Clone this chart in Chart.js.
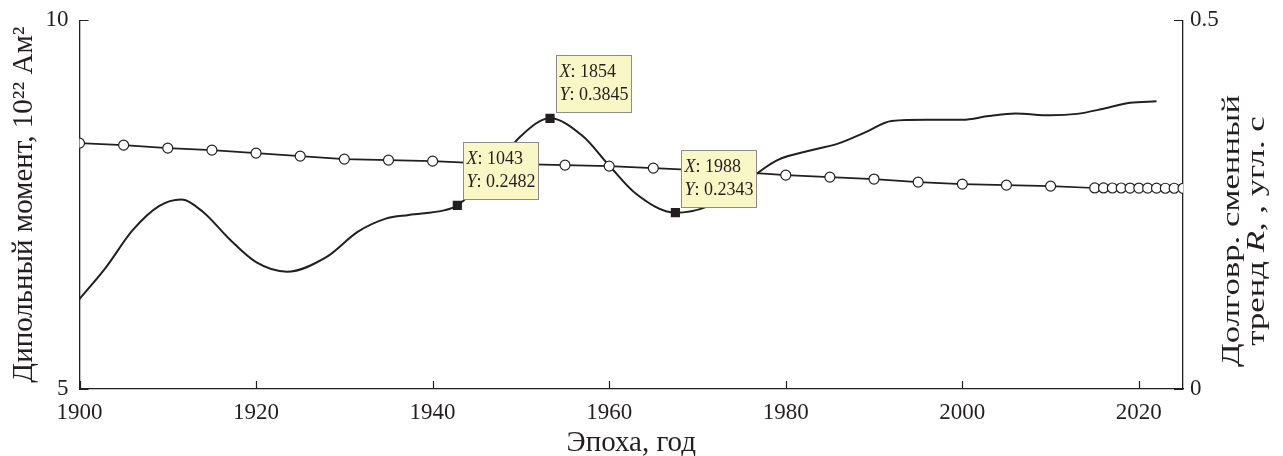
<!DOCTYPE html>
<html>
<head>
<meta charset="utf-8">
<script src="https://cdn.jsdelivr.net/npm/chart.js@4.4.0/dist/chart.umd.min.js"></script>
<style>
  html, body { margin: 0; padding: 0; background: #fff; }
  #wrap { width: 1283px; height: 456px; }
</style>
</head>
<body>
<div id="wrap"><canvas id="chart" width="1283" height="456"></canvas></div>
<script>
// Dipole moment, 10^22 Am^2 (open circles, left axis)
const dipoleYears = [1900, 1905, 1910, 1915, 1920, 1925, 1930, 1935, 1940, 1945, 1950, 1955,
  1960, 1965, 1970, 1975, 1980, 1985, 1990, 1995, 2000, 2005, 2010,
  2015, 2016, 2017, 2018, 2019, 2020, 2021, 2022, 2023, 2024, 2025];
const dipoleValues = [8.333, 8.306, 8.266, 8.238, 8.198, 8.157, 8.117, 8.103, 8.089, 8.062, 8.049, 8.035,
  8.022, 7.995, 7.968, 7.940, 7.900, 7.873, 7.846, 7.805, 7.778, 7.764, 7.751,
  7.726, 7.726, 7.725, 7.725, 7.724, 7.724, 7.723, 7.723, 7.722, 7.722, 7.721];

// Long-term trend R (smooth curve, right axis)
const trendYears = [1900, 1903, 1906, 1909, 1911.5, 1914, 1917, 1920, 1923.5, 1928, 1931.5, 1934.7,
  1937.3, 1941.4, 1942.8, 1946, 1950, 1953.3, 1957, 1960, 1963, 1967.5, 1971, 1975, 1979,
  1983, 1986, 1989, 1992, 1996, 2000, 2003, 2006, 2010, 2013, 2016, 2019, 2022];
const trendValues = [0.122, 0.165, 0.215, 0.248, 0.257, 0.240, 0.203, 0.172, 0.159, 0.179, 0.213, 0.231,
  0.236, 0.2425, 0.249, 0.285, 0.343, 0.367, 0.343, 0.303, 0.265, 0.239, 0.247, 0.277, 0.310,
  0.324, 0.333, 0.348, 0.3635, 0.365, 0.365, 0.370, 0.3735, 0.371, 0.373, 0.380, 0.388, 0.390];

// Marked points with data tips
const tipYears = [1942.8, 1953.3, 1967.5];
const tipValues = [0.249, 0.367, 0.239];
const tipXText = ["1043", "1854", "1988"];
const tipYText = ["0.2482", "0.3845", "0.2343"];

const INK = "#231f20";
const FONT = "'Liberation Serif', 'Times New Roman', serif";

// tick marks pointing into the plot
const inwardTicks = {
  id: "inwardTicks",
  afterDraw(chart) {
    const { ctx, chartArea: a, scales } = chart;
    ctx.save();
    ctx.strokeStyle = INK;
    ctx.lineWidth = 1.2;
    ctx.beginPath();
    scales.x.ticks.forEach(t => {
      const px = Math.round(scales.x.getPixelForValue(t.value)) + 0.5;
      ctx.moveTo(px, a.bottom);
      ctx.lineTo(px, a.bottom - 8);
    });
    scales.y.ticks.forEach(t => {
      const py = Math.round(scales.y.getPixelForValue(t.value)) + 0.5;
      ctx.moveTo(a.left, py);
      ctx.lineTo(a.left + 9, py);
    });
    scales.y2.ticks.forEach(t => {
      const py = Math.round(scales.y2.getPixelForValue(t.value)) + 0.5;
      ctx.moveTo(a.right, py);
      ctx.lineTo(a.right - 9, py);
    });
    ctx.stroke();
    ctx.restore();
  }
};

// two-line right axis title, reading bottom to top, with italic R
const rightTitle = {
  id: "rightTitle",
  afterDraw(chart) {
    const { ctx } = chart;
    const size = 25;
    ctx.save();
    ctx.fillStyle = INK;
    ctx.textBaseline = "middle";
    ctx.translate(1232, 231);
    ctx.rotate(-Math.PI / 2);
    ctx.font = size + "px " + FONT;
    // the original lettering is drawn a bit stretched along the text
    const line1 = "Долговр. сменный";
    const stretch = 272 / ctx.measureText(line1).width;
    ctx.scale(stretch, 1);
    ctx.textAlign = "center";
    ctx.fillText(line1, 0, 0);
    // second line
    const parts = [["тренд ", false], ["R", true], [", , угл. с", false]];
    let w = 0;
    parts.forEach(p => {
      ctx.font = (p[1] ? "italic " : "") + size + "px " + FONT;
      w += ctx.measureText(p[0]).width;
    });
    let x = -w / 2;
    ctx.textAlign = "left";
    parts.forEach(p => {
      ctx.font = (p[1] ? "italic " : "") + size + "px " + FONT;
      ctx.fillText(p[0], x, 25);
      x += ctx.measureText(p[0]).width;
    });
    ctx.restore();
  }
};

// yellow data tip boxes
const dataTips = {
  id: "dataTips",
  afterDatasetsDraw(chart) {
    const { ctx, scales } = chart;
    ctx.save();
    tipYears.forEach((yr, i) => {
      const px = scales.x.getPixelForValue(yr);
      const py = scales.y2.getPixelForValue(tipValues[i]);
      const bx = Math.round(px + 6) + 0.5;
      const by = Math.round(py - 6 - 57) + 0.5;
      ctx.fillStyle = "#f9f7c6";
      ctx.strokeStyle = "#8c8c8c";
      ctx.lineWidth = 1;
      ctx.fillRect(bx, by, 75, 57);
      ctx.strokeRect(bx, by, 75, 57);
      ctx.fillStyle = INK;
      ctx.textBaseline = "middle";
      ctx.textAlign = "left";
      const rows = [["X", tipXText[i]], ["Y", tipYText[i]]];
      rows.forEach((r, j) => {
        const ty = by + 17 + j * 23;
        ctx.font = "italic 18px " + FONT;
        ctx.fillText(r[0], bx + 3, ty);
        const w = ctx.measureText(r[0]).width;
        ctx.font = "18px " + FONT;
        ctx.fillText(": " + r[1], bx + 3 + w, ty);
      });
    });
    ctx.restore();
  }
};

const dipoleData = dipoleYears.map((yr, i) => ({ x: yr, y: dipoleValues[i] }));
const trendData = trendYears.map((yr, i) => ({ x: yr, y: trendValues[i] }));
const tipData = tipYears.map((yr, i) => ({ x: yr, y: tipValues[i] }));

const tickFont = { family: FONT, size: 23 };
const sideTickFont = { family: FONT, size: 23, lineHeight: 0.8 };
const titleFont = { family: FONT, size: 29, lineHeight: 1 };
const xTitleFont = { family: FONT, size: 29, lineHeight: 0.9 };

new Chart(document.getElementById("chart"), {
  type: "line",
  data: {
    datasets: [
      {
        label: "Дипольный момент",
        data: dipoleData,
        yAxisID: "y",
        borderColor: INK,
        borderWidth: 1.6,
        pointRadius: 5,
        pointBackgroundColor: "#fff",
        pointBorderColor: INK,
        pointBorderWidth: 1.2,
        tension: 0
      },
      {
        label: "Маркеры",
        data: tipData,
        yAxisID: "y2",
        showLine: false,
        pointStyle: "rect",
        pointRadius: 6.5,
        pointBackgroundColor: INK,
        pointBorderColor: INK,
        pointBorderWidth: 0
      },
      {
        label: "Тренд R",
        data: trendData,
        yAxisID: "y2",
        borderColor: INK,
        borderWidth: 2,
        pointRadius: 0,
        cubicInterpolationMode: "monotone"
      }
    ]
  },
  options: {
    responsive: false,
    animation: false,
    devicePixelRatio: 1,
    layout: { padding: { top: 0, left: 0, right: 0, bottom: 0 } },
    plugins: { legend: { display: false }, tooltip: { enabled: false } },
    scales: {
      x: {
        type: "linear",
        min: 1900,
        max: 2025,
        grid: { display: false, drawTicks: false },
        border: { display: true, color: INK, width: 1.3 },
        ticks: { stepSize: 20, includeBounds: false, color: INK, font: tickFont, padding: 10,
          maxRotation: 0, callback: v => String(v) },
        title: { display: true, text: "Эпоха, год", color: INK, font: xTitleFont, padding: { top: 0, bottom: 0 } },
        afterFit: s => { s.height = 67; }
      },
      y: {
        position: "left",
        min: 5,
        max: 10,
        grid: { display: false, drawTicks: false },
        border: { display: true, color: INK, width: 1.3 },
        ticks: { stepSize: 5, color: INK, font: sideTickFont, padding: 11 },
        title: { display: true, text: "Дипольный момент, 10²² Ам²", color: INK, font: titleFont,
          padding: { top: 10, bottom: 0 } },
        afterFit: s => { s.width = 79.5; }
      },
      y2: {
        position: "right",
        min: 0,
        max: 0.5,
        grid: { display: false, drawTicks: false },
        border: { display: true, color: INK, width: 1.3 },
        ticks: { stepSize: 0.5, color: INK, font: sideTickFont, padding: 7,
          callback: v => (v === 0 ? "0" : String(v)) },
        afterFit: s => { s.width = 100; }
      }
    }
  },
  plugins: [inwardTicks, rightTitle, dataTips]
});
</script>
</body>
</html>
